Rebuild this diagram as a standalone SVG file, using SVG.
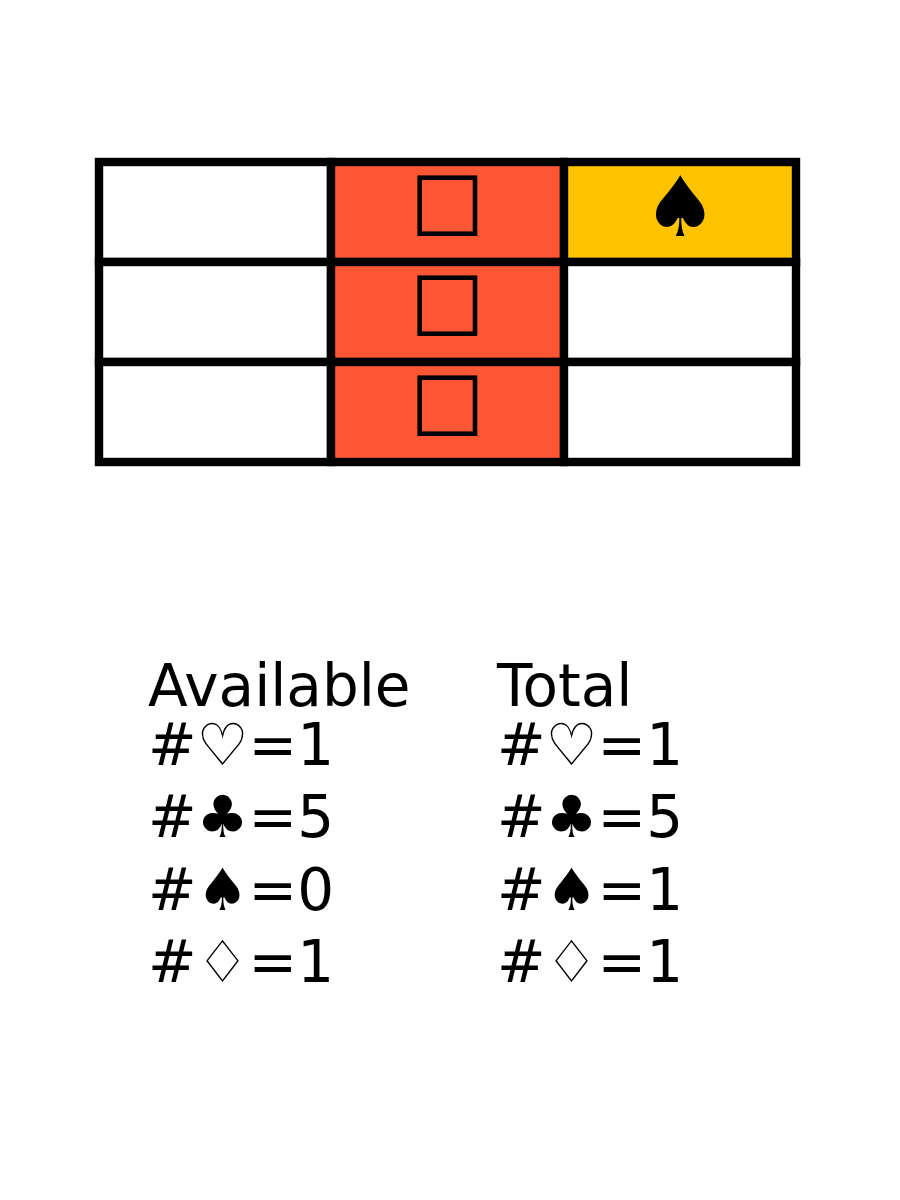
<svg xmlns="http://www.w3.org/2000/svg" width="900" height="1200" viewBox="0 0 900 1200">
<style>
.c{stroke:#000;stroke-width:8.4;fill:#fff}
.r{fill:#ff5733}
.y{fill:#ffc300}
.b{fill:none;stroke:#000;stroke-width:4.6}
text{font-family:"DejaVu Sans",sans-serif;fill:#000}
.t{font-size:58px}
</style>
<rect width="900" height="1200" fill="#fff"/>
<g id="grid">
<rect class="c" x="99" y="162" width="232" height="100"/>
<rect class="c r" x="331" y="162" width="233" height="100"/>
<rect class="c y" x="564" y="162" width="232" height="100"/>
<rect class="c" x="99" y="262" width="232" height="100"/>
<rect class="c r" x="331" y="262" width="233" height="100"/>
<rect class="c" x="564" y="262" width="232" height="100"/>
<rect class="c" x="99" y="362" width="232" height="100"/>
<rect class="c r" x="331" y="362" width="233" height="100"/>
<rect class="c" x="564" y="362" width="232" height="100"/>
<rect class="b" x="419.7" y="177.7" width="55.3" height="56"/>
<rect class="b" x="419.7" y="277.7" width="55.3" height="56"/>
<rect class="b" x="419.7" y="377.7" width="55.3" height="56"/>
<text x="680.3" y="236" font-size="83.33" text-anchor="middle">♠</text>
</g>
<g id="available" class="t">
<text x="148" y="706">Available</text>
<text x="148" y="765">#♡=1</text>
<text x="148" y="837">#♣=5</text>
<text x="148" y="909.5">#♠=0</text>
<text x="148" y="982">#♢=1</text>
</g>
<g id="total" class="t">
<text x="497" y="706">Total</text>
<text x="497" y="765">#♡=1</text>
<text x="497" y="837">#♣=5</text>
<text x="497" y="909.5">#♠=1</text>
<text x="497" y="982">#♢=1</text>
</g>
</svg>
